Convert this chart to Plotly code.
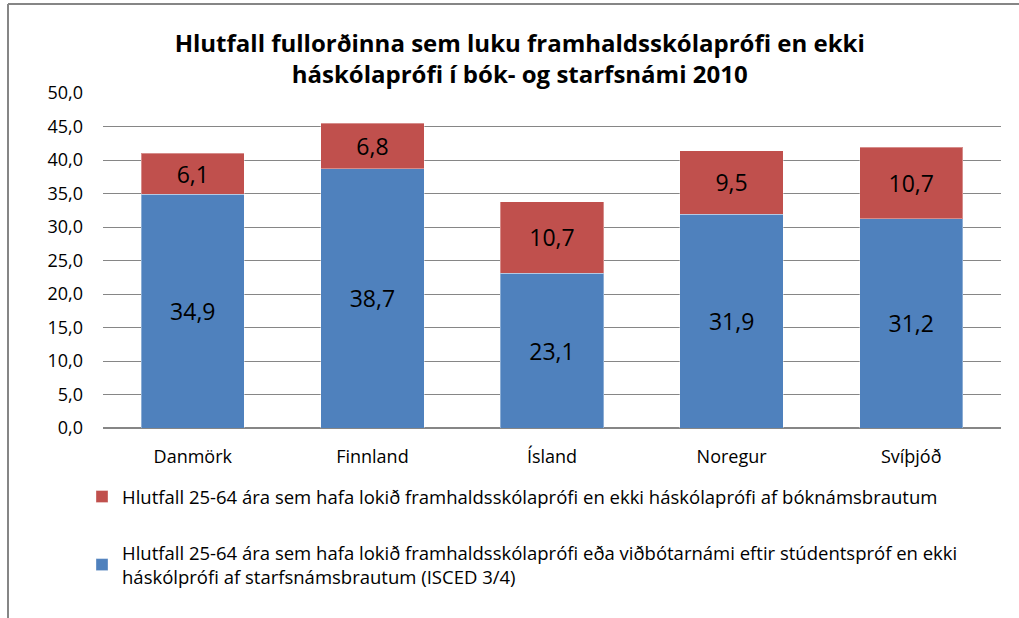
import plotly.graph_objects as go

categories = ["Danmörk", "Finnland", "Ísland", "Noregur", "Svíþjóð"]
starfsnam = [34.9, 38.7, 23.1, 31.9, 31.2]
boknam = [6.1, 6.8, 10.7, 9.5, 10.7]
name_blue = "Hlutfall 25-64 ára sem hafa lokið framhaldsskólaprófi eða viðbótarnámi eftir stúdentspróf en ekki<br>háskólprófi af starfsnámsbrautum (ISCED 3/4)"
name_red = "Hlutfall 25-64 ára sem hafa lokið framhaldsskólaprófi en ekki háskólaprófi af bóknámsbrautum"
title_text = "Hlutfall fullorðinna sem luku framhaldsskólaprófi en ekki<br>háskólaprófi í bók- og starfsnámi 2010"

FONT = "'Open Sans', 'Noto Sans', sans-serif"
W, H = 1019, 618
L, R, T, B = 103, 18, 93, 190
pw, ph = W - L - R, H - T - B

def px(x):
    return (x - L) / pw

def py(y):
    return (H - B - y) / ph

fig = go.Figure()
fig.add_trace(go.Bar(
    x=categories, y=starfsnam, name=name_blue,
    marker=dict(color="#4F81BD", line=dict(color="rgba(255,255,255,0.35)", width=1)),
    texttemplate="%{y:.1f}", textposition="inside", insidetextanchor="middle",
    textfont=dict(size=23, color="black", family=FONT), legendgroup="b", legendrank=2,
))
fig.add_trace(go.Bar(
    x=categories, y=boknam, name=name_red,
    marker=dict(color="#C0504D", line=dict(color="rgba(255,255,255,0.35)", width=1)),
    texttemplate="%{y:.1f}", textposition="inside", insidetextanchor="middle",
    textfont=dict(size=23, color="black", family=FONT), legendgroup="r", legendrank=1,
))

fig.update_layout(
    width=W, height=H,
    barmode="stack", bargap=0.425,
    separators=",.",
    plot_bgcolor="white", paper_bgcolor="white",
    margin=dict(l=L, r=R, t=T, b=B),
    font=dict(family=FONT, size=18, color="black"),
    uniformtext=dict(mode="show", minsize=10),
    title=dict(text=title_text, x=0.51, xanchor="center", xref="container",
               y=1 - 52 / H, yanchor="top", yref="container",
               font=dict(size=24, family=FONT, color="black", weight="bold")),
    yaxis=dict(range=[0, 50], dtick=5, tickformat=".1f", showgrid=True,
               gridcolor="#868686", gridwidth=1, zeroline=True, zerolinecolor="#868686",
               ticks="", tickfont=dict(size=18), ticklabelstandoff=19),
    xaxis=dict(showline=True, linecolor="#868686", ticks="", tickfont=dict(size=18),
               ticklabelstandoff=12),
    legend=dict(orientation="v", x=px(82), xanchor="left", y=py(478), yanchor="top",
                traceorder="grouped", tracegroupgap=29,
                font=dict(size=18.5, family=FONT), itemwidth=30),
    shapes=[
        dict(type="line", xref="paper", yref="paper", x0=px(8), x1=px(1030),
             y0=py(4), y1=py(4), line=dict(color="#868686", width=2)),
        dict(type="line", xref="paper", yref="paper", x0=px(8), x1=px(8),
             y0=py(4), y1=py(630), line=dict(color="#868686", width=2)),
    ],
)

fig.write_html("out.html", config={"displayModeBar": False},
               post_script="document.body.style.margin='0';")
